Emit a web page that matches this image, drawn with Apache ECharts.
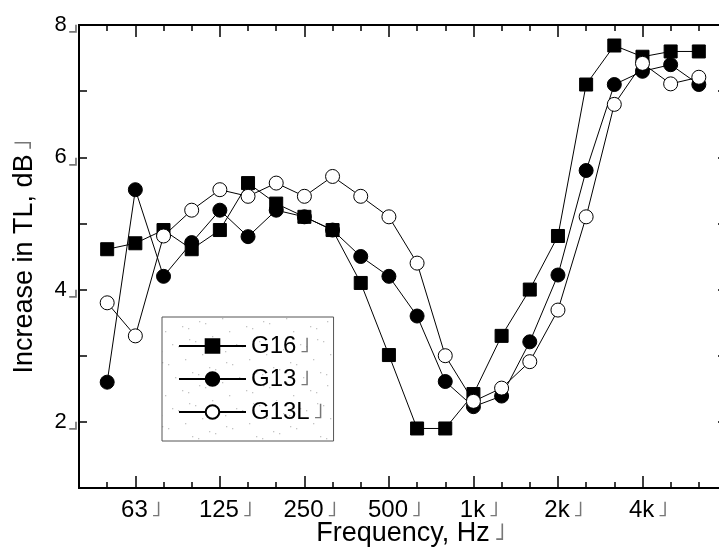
<!DOCTYPE html>
<html><head><meta charset="utf-8">
<script src="https://cdn.jsdelivr.net/npm/echarts@6/dist/echarts.min.js"></script>
<style>html,body{margin:0;padding:0;background:#fff}#c{width:719px;height:550px}</style>
</head><body><div id="c"></div>
<script>
// 1/3-octave band centre frequencies (x positions are their indices)
const freqs = ['50','63','80','100','125','160','200','250','315','400','500','630','800','1k','1.25k','1.6k','2k','2.5k','3.15k','4k','5k','6.3k'];
const majorIdx = [1,4,7,10,13,16,19];
const tickLabels = ['63','125','250','500','1k','2k','4k'];
const yLabelValues = [2,4,6,8];
const seriesNames = ['G16','G13','G13L'];
const g16  = [4.61,4.70,4.90,4.61,4.90,5.61,5.30,5.10,4.90,4.10,3.01,1.90,1.90,2.42,3.30,4.00,4.81,7.10,7.69,7.52,7.60,7.60];
const g13  = [2.60,5.51,4.20,4.71,5.20,4.80,5.20,5.10,4.90,4.50,4.20,3.60,2.61,2.23,2.39,3.21,4.22,5.80,7.10,7.30,7.40,7.10];
const g13L = [3.80,3.30,4.81,5.20,5.51,5.41,5.61,5.41,5.71,5.41,5.10,4.40,3.00,2.31,2.51,2.91,3.69,5.10,6.80,7.42,7.11,7.21];

const minorIdx = freqs.map((f,i)=>i).filter(i=>majorIdx.indexOf(i)<0);
const FONT = 'Liberation Sans, Arial, sans-serif';
const MARK = '\u02E9';   // trailing corner mark seen after every text
function cornerStyle(size, pad){
  return {color:'#777',fontFamily:'DejaVu Sans',fontSize:size,padding:pad};
}

// speckled legend background texture
function speckle(){
  const cv=document.createElement('canvas'); cv.width=64; cv.height=64;
  const ctx=cv.getContext('2d'); ctx.fillStyle='#fff'; ctx.fillRect(0,0,64,64);
  ctx.fillStyle='#c4c4c4';
  for(let k=0;k<22;k++){const x=(k*37+11)%64, y=(k*23+5)%64; ctx.fillRect(x,y,1.3,1.3);}
  return cv;
}

function xAx(pos, ticks, len, labels){
  return {
    type:'value', position:pos, min:-1, max:22, gridIndex:0,
    axisLine:{show:true,onZero:false,lineStyle:{color:'#000',width:2}},
    axisTick:{show:true,inside:true,length:len,customValues:ticks,lineStyle:{color:'#000',width:1.5}},
    axisLabel: labels ? {
      show:true, customValues:majorIdx, margin:10,
      formatter:v=>'{s|}'+tickLabels[majorIdx.indexOf(v)]+'{c|'+MARK+'}',
      color:'#000', fontSize:24, fontFamily:FONT,
      rich:{s:{width:12}, c:cornerStyle(22,[0,0,0,3])}
    } : {show:false},
    splitLine:{show:false}
  };
}
const xAxes = [xAx('bottom',majorIdx,12,true), xAx('bottom',minorIdx,6,false), xAx('top',majorIdx,12,false), xAx('top',minorIdx,6,false)];
xAxes[0].name = '{s|}Frequency, Hz{c|'+MARK+'}';
xAxes[0].nameLocation = 'middle';
xAxes[0].nameGap = 32;
xAxes[0].nameMoveOverlap = false;
xAxes[0].nameTextStyle = {color:'#000',fontSize:27,fontFamily:FONT,rich:{s:{width:16},c:cornerStyle(24,[0,0,0,4])}};

const yAxes = [
  {type:'value',position:'left',min:1,max:8,interval:1,
   axisLine:{show:true,onZero:false,lineStyle:{color:'#000',width:2}},
   axisTick:{show:true,inside:true,length:8,lineStyle:{color:'#000',width:1.5}},
   axisLabel:{margin:0,color:'#000',fontSize:22,fontFamily:FONT,
     formatter:v=>yLabelValues.indexOf(v)>=0? v+'{c|\u231F}':'', rich:{c:cornerStyle(24,[0,0,0,1])}},
   splitLine:{show:false},
   name:'Increase in TL, dB{c|'+MARK+'}', nameLocation:'middle', nameGap:41, nameMoveOverlap:false,
   nameTextStyle:{color:'#000',fontSize:27,fontFamily:FONT,rich:{c:cornerStyle(24,[0,0,0,3])}}},
  {type:'value',position:'right',min:1,max:8,interval:1,
   axisLine:{show:true,onZero:false,lineStyle:{color:'#000',width:2}},
   axisTick:{show:true,inside:true,length:9,lineStyle:{color:'#000',width:1.5}},
   axisLabel:{show:false},splitLine:{show:false}}
];

const styles = [
  {symbol:'rect',size:13,fill:'#000'},
  {symbol:'circle',size:14,fill:'#000'},
  {symbol:'circle',size:14,fill:'#fff'}
];
const values = [g16,g13,g13L];
const series = seriesNames.map((n,k)=>({
  name:n, type:'line', xAxisIndex:0, yAxisIndex:0,
  data: values[k].map((v,i)=>[i,v]),
  symbol:styles[k].symbol, symbolSize:styles[k].size, showAllSymbol:true,
  itemStyle:{color:styles[k].fill,borderColor:'#000',borderWidth:1,opacity:1},
  lineStyle:{color:'#000',width:1},
  emphasis:{disabled:true}
}));

const chart = echarts.init(document.getElementById('c'),null,{renderer:'canvas'});
chart.setOption({
  animation:false,
  backgroundColor:'#fff',
  grid:{left:79,top:25,width:648,height:463,containLabel:false,outerBoundsMode:'none'},
  xAxis:xAxes, yAxis:yAxes, series:series,
  legend:{
    data:seriesNames, orient:'vertical', left:162, top:317,
    padding:[17,10,17,16], itemWidth:67, itemHeight:17, itemGap:9,
    borderColor:'#555', borderWidth:1,
    backgroundColor:{image:speckle(),repeat:'repeat'},
    textStyle:{color:'#000',fontSize:24,fontFamily:FONT,rich:{c:cornerStyle(22,[0,0,0,3])}},
    formatter:n=>n+'{c|'+MARK+'}',
    selectedMode:false
  }
});
</script></body></html>
